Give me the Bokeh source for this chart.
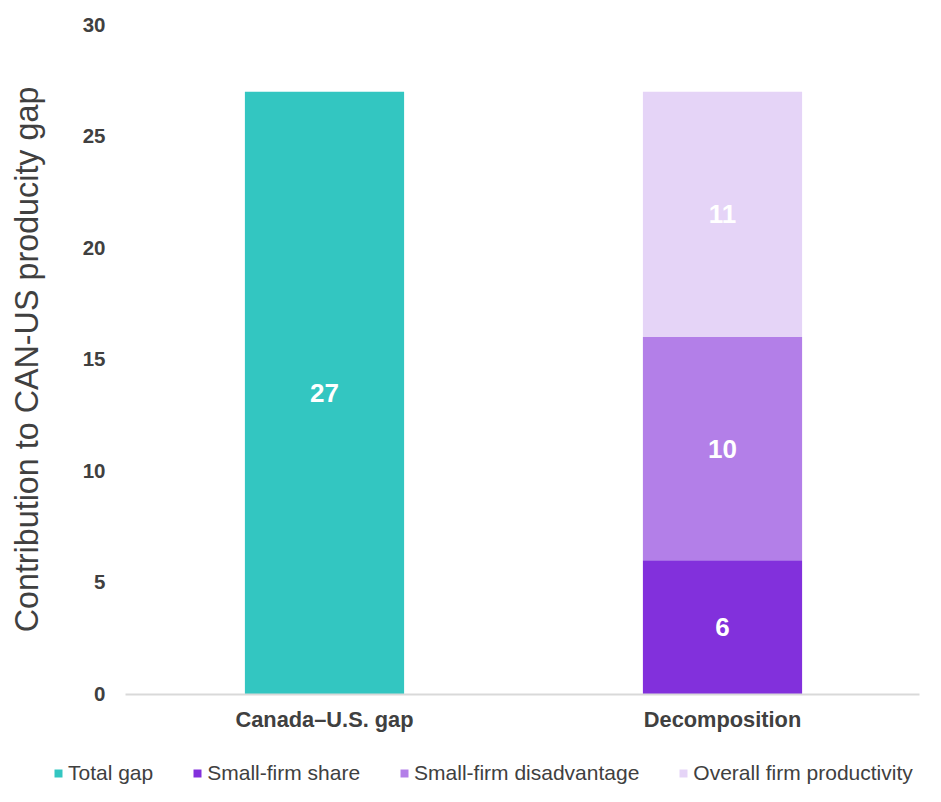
from bokeh.plotting import figure
from bokeh.models import ColumnDataSource, FixedTicker, Legend, LegendItem, Range1d
from bokeh.core.properties import value
from bokeh.embed import file_html
from bokeh.resources import INLINE

categories = ["Canada–U.S. gap", "Decomposition"]
total_gap = [27, 0]
small_firm_share = [0, 6]
small_firm_disadvantage = [0, 10]
overall_firm_productivity = [0, 11]
series_names = ["Total gap", "Small-firm share", "Small-firm disadvantage", "Overall firm productivity"]
colors = ["#33C6C1", "#8230DC", "#B37FE8", "#E5D4F7"]
y_ticks = [0, 5, 10, 15, 20, 25, 30]

FONT = "Liberation Sans"
TXT = "#404040"

# ---- layout constants (pixels inside the figure) ----
W, H = 925, 786
PX_PER_CAT = 398.0          # distance between category centres
CAT0_PX = 324.0             # centre of first category
AX_LEFT_PX, AX_RIGHT_PX = 125.0, 919.0   # plot-area edges
Y_TOP_PX, Y_ZERO_PX = 24.3, 693.5        # y=30 and y=0 positions
y_max = y_ticks[-1]
px_per_y = (Y_ZERO_PX - Y_TOP_PX) / y_max

x_start = -CAT0_PX / PX_PER_CAT
x_end = x_start + W / PX_PER_CAT
y_start = -(H - Y_ZERO_PX) / px_per_y
y_end = y_max + Y_TOP_PX / px_per_y
ax_left = x_start + AX_LEFT_PX / PX_PER_CAT
ax_right = x_start + AX_RIGHT_PX / PX_PER_CAT

x_pos = list(range(len(categories)))
stack_keys = ["total", "share", "dis", "over"]
src = ColumnDataSource(dict(x=x_pos, total=total_gap, share=small_firm_share,
                            dis=small_firm_disadvantage, over=overall_firm_productivity))

p = figure(x_range=Range1d(x_start, x_end), y_range=Range1d(y_start, y_end), width=W, height=H,
           output_backend="svg", toolbar_location=None,
           min_border_left=0, min_border_right=0, min_border_top=0, min_border_bottom=0)
p.outline_line_color = None
p.grid.grid_line_color = None

r_stack = p.vbar_stack(stack_keys, x="x", width=0.4, source=src, color=colors, line_color=None)

# value labels
lx, ly, lt = [], [], []
stacks = [total_gap, small_firm_share, small_firm_disadvantage, overall_firm_productivity]
for i in x_pos:
    base = 0
    for s in stacks:
        v = s[i]
        if v > 0:
            lx.append(i)
            ly.append(base + v / 2)
            lt.append(str(v))
        base += v
p.text(x=lx, y=ly, text=lt, text_color="white", text_font=value(FONT), text_font_style="bold",
       text_font_size="26px", text_align="center", text_baseline="middle")

# y axis, drawn at the left edge of the plot area
p.yaxis.fixed_location = ax_left
p.yaxis.bounds = (0, y_max)
p.yaxis.ticker = FixedTicker(ticks=y_ticks)
p.yaxis.axis_line_color = None
p.yaxis.major_tick_line_color = None
p.yaxis.minor_tick_line_color = None
p.yaxis.major_label_text_font = FONT
p.yaxis.major_label_text_font_style = "bold"
p.yaxis.major_label_text_font_size = "20.5px"
p.yaxis.major_label_text_color = TXT
p.yaxis.major_label_standoff = 14
p.yaxis.axis_label = "Contribution to CAN-US producity gap"
p.yaxis.axis_label_text_font = FONT
p.yaxis.axis_label_text_font_style = "normal"
p.yaxis.axis_label_text_font_size = "32.3px"
p.yaxis.axis_label_text_color = TXT
p.yaxis.axis_label_standoff = 35

# x axis, drawn at y = 0
p.xaxis.fixed_location = 0
p.xaxis.bounds = (ax_left, ax_right)
p.xaxis.ticker = FixedTicker(ticks=x_pos)
p.xaxis.major_label_overrides = {i: c for i, c in zip(x_pos, categories)}
p.xaxis.axis_line_color = "#D9D9D9"
p.xaxis.axis_line_width = 2
p.xaxis.major_tick_line_color = None
p.xaxis.minor_tick_line_color = None
p.xaxis.major_label_text_font = FONT
p.xaxis.major_label_text_font_style = "bold"
p.xaxis.major_label_text_font_size = "21.8px"
p.xaxis.major_label_text_color = TXT
p.xaxis.major_label_standoff = 7

items = [LegendItem(label=n, renderers=[r]) for n, r in zip(series_names, r_stack)]
legend = Legend(items=items, orientation="horizontal", location=(53, 1),
                glyph_width=10, glyph_height=10, label_standoff=5, spacing=39,
                padding=0, margin=0, border_line_color=None, background_fill_alpha=0,
                label_text_font=FONT, label_text_font_size="21px", label_text_color=TXT)
p.add_layout(legend)

open("out.html", "w").write(file_html(p, INLINE))
